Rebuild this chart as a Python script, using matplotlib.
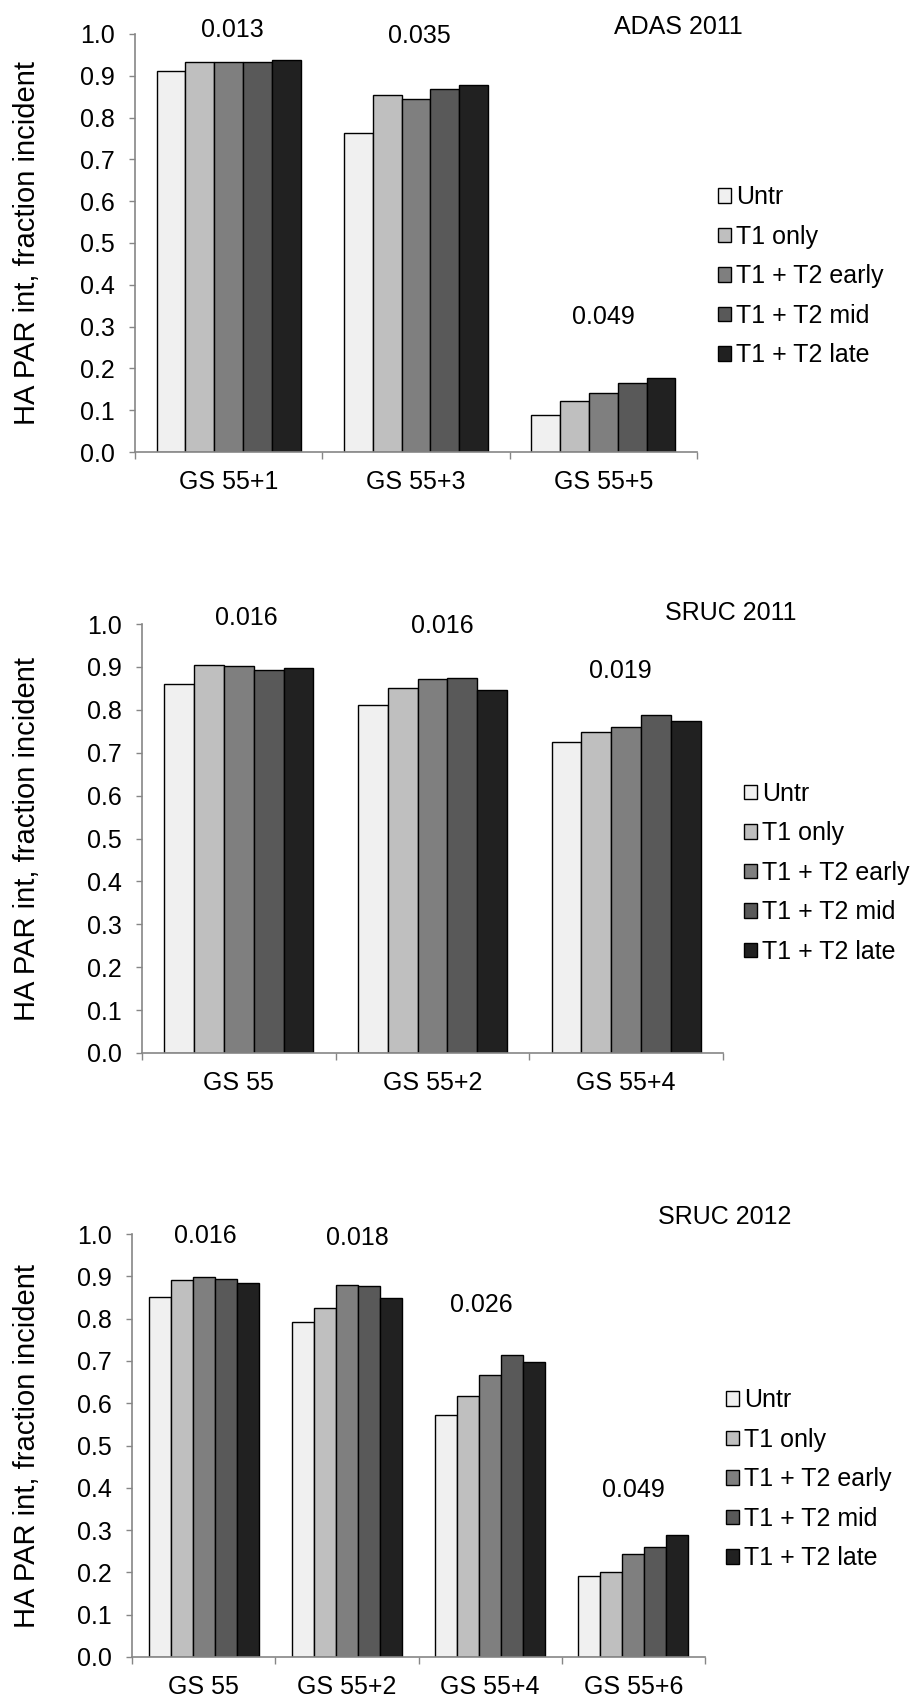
import matplotlib
matplotlib.use('Agg')
import matplotlib.pyplot as plt
import numpy as np

plt.rcParams['font.family'] = ['Liberation Sans', 'DejaVu Sans']

treatments = ['Untr', 'T1 only', 'T1 + T2 early', 'T1 + T2 mid', 'T1 + T2 late']
bar_colors = ['#f0f0f0', '#bfbfbf', '#7f7f7f', '#595959', '#212121']

# HA PAR interception, one row per treatment, one column per growth stage
adas11_stages = ['GS 55+1', 'GS 55+3', 'GS 55+5']
adas11_values = [
    [0.912, 0.764, 0.088],
    [0.933, 0.855, 0.123],
    [0.932, 0.845, 0.140],
    [0.933, 0.868, 0.165],
    [0.938, 0.877, 0.178],
]
adas11_sed = ['0.013', '0.035', '0.049']

sruc11_stages = ['GS 55', 'GS 55+2', 'GS 55+4']
sruc11_values = [
    [0.859, 0.811, 0.726],
    [0.905, 0.850, 0.748],
    [0.901, 0.872, 0.760],
    [0.893, 0.875, 0.787],
    [0.898, 0.846, 0.773],
]
sruc11_sed = ['0.016', '0.016', '0.019']

sruc12_stages = ['GS 55', 'GS 55+2', 'GS 55+4', 'GS 55+6']
sruc12_values = [
    [0.852, 0.793, 0.573, 0.192],
    [0.892, 0.824, 0.617, 0.201],
    [0.898, 0.879, 0.666, 0.243],
    [0.894, 0.876, 0.714, 0.260],
    [0.885, 0.849, 0.698, 0.289],
]
sruc12_sed = ['0.016', '0.018', '0.026', '0.049']

W, H = 910, 1703
AXIS_GREY = '#868686'
FS = 18


def draw_panel(ax, stages, values, sed, sed_pos, title, title_pos, ylab_x):
    n = len(stages)
    x = np.arange(n)
    w = 1 / (len(treatments) + 1.5)
    for i, (name, col) in enumerate(zip(treatments, bar_colors)):
        ax.bar(x + (i - 2) * w, values[i], w, color=col, edgecolor='black',
               linewidth=1.0, label=name, zorder=2)

    ax.set_xlim(-0.5, n - 0.5)
    ax.set_ylim(0, 1.0)
    ax.set_yticks(np.arange(0, 1.01, 0.1))
    ax.set_yticklabels([f'{v:.1f}' for v in np.arange(0, 1.01, 0.1)])

    # category separators as major ticks, names on minor ticks
    ax.set_xticks(np.arange(-0.5, n, 1.0))
    ax.set_xticklabels([])
    ax.set_xticks(x, minor=True)
    ax.set_xticklabels(stages, minor=True)
    ax.tick_params(axis='x', which='major', length=5, width=1, color=AXIS_GREY)
    ax.tick_params(axis='x', which='minor', length=0, pad=13, labelsize=FS)
    ax.tick_params(axis='y', length=4.5, width=1, color=AXIS_GREY, pad=10,
                   labelsize=FS)

    for s in ['top', 'right']:
        ax.spines[s].set_visible(False)
    for s in ['left', 'bottom']:
        ax.spines[s].set_color(AXIS_GREY)
        ax.spines[s].set_linewidth(1.2)

    # SED of each growth stage above its group
    for xi, lab, (dx, yy) in zip(x, sed, sed_pos):
        ax.text(xi + dx, yy, lab, ha='center', va='center', fontsize=FS)

    ax.text(title_pos[0], title_pos[1], title, transform=ax.transAxes,
            ha='left', va='center', fontsize=FS)

    ax_w = ax.get_position().width * W
    ax.legend(loc='center left', bbox_to_anchor=(1 + 21 / ax_w, 0.42),
              frameon=False, fontsize=18, handlelength=0.52, handleheight=0.52,
              handletextpad=0.22, labelspacing=0.62, borderpad=0,
              borderaxespad=0)

    pos = ax.get_position()
    fig.text(ylab_x / W, pos.y0 + pos.height / 2, 'HA PAR int, fraction incident',
             rotation=90, ha='center', va='center', fontsize=21)


fig = plt.figure(figsize=(W / 100, H / 100), dpi=100)

# axes boxes in pixels: left, top, right, bottom
boxes = [(135, 34, 697, 452), (142, 624, 723, 1053), (132, 1234, 705, 1657)]
axes = []
for l, t, r, b in boxes:
    axes.append(fig.add_axes([l / W, 1 - b / H, (r - l) / W, (b - t) / H]))

draw_panel(axes[0], adas11_stages, adas11_values, adas11_sed,
           [(0.02, 1.01), (0.02, 0.995), (0.0, 0.323)],
           'ADAS 2011', (0.852, 1.017), 27)
draw_panel(axes[1], sruc11_stages, sruc11_values, sruc11_sed,
           [(0.04, 1.015), (0.05, 0.996), (-0.03, 0.891)],
           'SRUC 2011', (0.900, 1.026), 27)
draw_panel(axes[2], sruc12_stages, sruc12_values, sruc12_sed,
           [(0.015, 0.995), (0.07, 0.99), (-0.06, 0.831), (0.0, 0.395)],
           'SRUC 2012', (0.918, 1.040), 27)

fig.savefig('out.png', dpi=100)
